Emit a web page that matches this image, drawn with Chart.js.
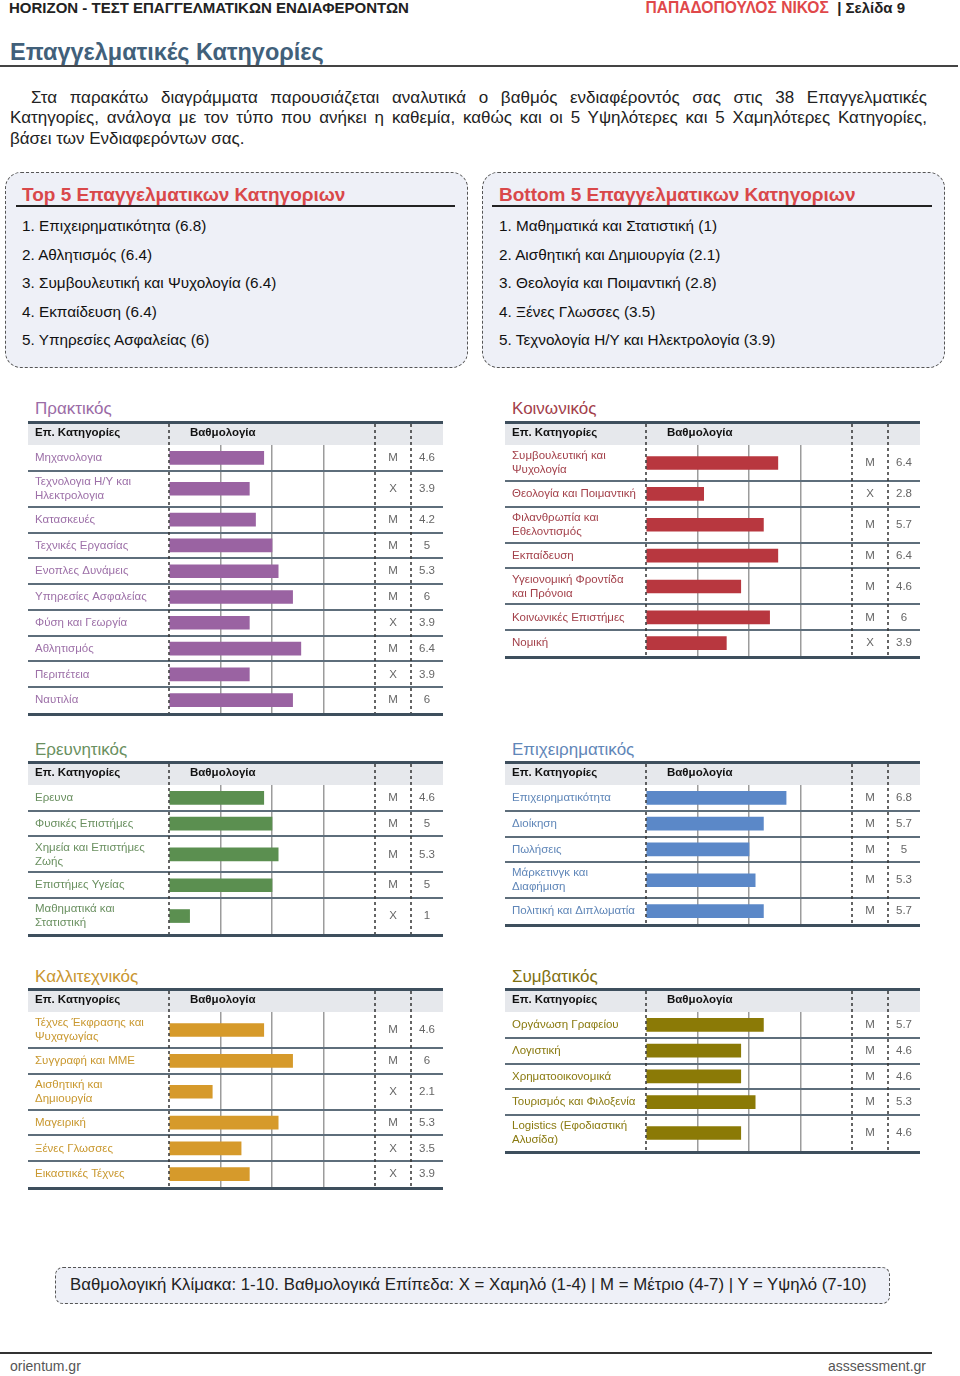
<!DOCTYPE html>
<html lang="el">
<head>
<meta charset="utf-8">
<script src="https://cdn.jsdelivr.net/npm/chart.js@4.4.1/dist/chart.umd.min.js"></script>
<style>
  body { margin: 0; width: 960px; height: 1376px; position: relative; background: #fff;
         font-family: "Liberation Sans", Arial, sans-serif; color: #222; overflow: hidden; }
  .abs { position: absolute; }
  .topbar { top: 0; font-weight: bold; font-size: 15px; line-height: 16px; white-space: nowrap; }
  .h1 { left: 10px; top: 39px; font-size: 23.5px; font-weight: bold; color: #41607a; }
  .rule { background: #444; }
  .para { left: 10px; width: 917px; font-size: 17px; line-height: 20.5px; white-space: nowrap; }
  .para.j { text-align: justify; text-align-last: justify; }
  .box { border: 1.5px dashed #555; border-radius: 16px; background: #eef0f7; box-sizing: border-box; }
  .boxtitle { font-size: 19px; font-weight: bold; color: #d9484a; white-space: nowrap; line-height: 22px; }
  .item { font-size: 15.3px; line-height: 18px; white-space: nowrap; color: #111; }
  .ttitle { font-size: 17px; line-height: 20px; white-space: nowrap; }
  canvas { position: absolute; }
  .legend { left: 55px; top: 1267px; width: 835px; height: 37px; border: 1.5px dashed #555;
            border-radius: 8px; background: #eef0f7; box-sizing: border-box;
            font-size: 16.8px; line-height: 34px; padding-left: 14px; white-space: nowrap; }
  .foot { font-size: 14px; color: #555; top: 1358px; }
</style>
</head>
<body>
<div class="abs topbar" style="left:9px;">HORIZON - ΤΕΣΤ ΕΠΑΓΓΕΛΜΑΤΙΚΩΝ ΕΝΔΙΑΦΕΡΟΝΤΩΝ</div>
<div class="abs topbar" style="right:55px;"><span style="color:#e0484a; font-size:15.6px;">ΠΑΠΑΔΟΠΟΥΛΟΣ ΝΙΚΟΣ</span> &nbsp;| Σελίδα 9</div>
<div class="abs h1">Επαγγελματικές Κατηγορίες</div>
<div class="abs rule" style="left:0; top:65px; width:958px; height:2px;"></div>
<div class="abs para j" style="top:87.5px; left:31px; width:896px;">Στα παρακάτω διαγράμματα παρουσιάζεται αναλυτικά ο βαθμός ενδιαφέροντός σας στις 38 Επαγγελματικές</div>
<div class="abs para j" style="top:108px;">Κατηγορίες, ανάλογα με τον τύπο που ανήκει η καθεμία, καθώς και οι 5 Υψηλότερες και 5 Χαμηλότερες Κατηγορίες,</div>
<div class="abs para" style="top:128.5px;">βάσει των Ενδιαφερόντων σας.</div>

<div class="abs box" style="left:5px; top:172px; width:463px; height:196px;"></div>
<div class="abs boxtitle" style="left:22px; top:184px;">Top 5 Επαγγελματικων Κατηγοριων</div>
<div class="abs rule" style="left:16px; top:205px; width:439px; height:2px; background:#222;"></div>
<div id="topList"></div>

<div class="abs box" style="left:482px; top:172px; width:463px; height:196px;"></div>
<div class="abs boxtitle" style="left:499px; top:184px;">Bottom 5 Επαγγελματικων Κατηγοριων</div>
<div class="abs rule" style="left:492px; top:205px; width:440px; height:2px; background:#222;"></div>
<div id="bottomList"></div>

<div class="abs ttitle" style="left:35px; top:399px; color:#9b6ba6;">Πρακτικός</div>
<div class="abs ttitle" style="left:512px; top:399px; color:#a3404a;">Κοινωνικός</div>
<div class="abs ttitle" style="left:35px; top:740px; color:#6a9060;">Ερευνητικός</div>
<div class="abs ttitle" style="left:512px; top:740px; color:#5f86b8;">Επιχειρηματικός</div>
<div class="abs ttitle" style="left:35px; top:967px; color:#c9962f;">Καλλιτεχνικός</div>
<div class="abs ttitle" style="left:512px; top:967px; color:#7f7010;">Συμβατικός</div>

<canvas id="cPraktikos" width="415" style="left:28px; top:421px;"></canvas>
<canvas id="cKoinonikos" width="415" style="left:505px; top:421px;"></canvas>
<canvas id="cEreunitikos" width="415" style="left:28px; top:761px;"></canvas>
<canvas id="cEpixeirimatikos" width="415" style="left:505px; top:761px;"></canvas>
<canvas id="cKallitexnikos" width="415" style="left:28px; top:988px;"></canvas>
<canvas id="cSymvatikos" width="415" style="left:505px; top:988px;"></canvas>

<div class="abs legend">Βαθμολογική Κλίμακα: 1-10. Βαθμολογικά Επίπεδα: Χ = Χαμηλό (1-4) | Μ = Μέτριο (4-7) | Υ = Υψηλό (7-10)</div>

<div class="abs rule" style="left:0; top:1352px; width:932px; height:2px; background:#333;"></div>
<div class="abs foot" style="left:10px;">orientum.gr</div>
<div class="abs foot" style="right:34px;">asssessment.gr</div>

<script>
// --- Top / Bottom 5 ---
const top5Names = ['Επιχειρηματικότητα', 'Αθλητισμός', 'Συμβουλευτική και Ψυχολογία', 'Εκπαίδευση', 'Υπηρεσίες Ασφαλείας'];
const top5Scores = [6.8, 6.4, 6.4, 6.4, 6];
const bottom5Names = ['Μαθηματικά και Στατιστική', 'Αισθητική και Δημιουργία', 'Θεολογία και Ποιμαντική', 'Ξένες Γλωσσες', 'Τεχνολογία Η/Υ και Ηλεκτρολογία'];
const bottom5Scores = [1, 2.1, 2.8, 3.5, 3.9];

// --- Πρακτικός ---
const praktikosLabels = ['Μηχανολογια', ['Τεχνολογια Η/Υ και', 'Ηλεκτρολογια'], 'Κατασκευές', 'Τεχνικές Εργασίας',
  'Ενοπλες Δυνάμεις', 'Υπηρεσίες Ασφαλείας', 'Φύση και Γεωργία', 'Αθλητισμός', 'Περιπέτεια', 'Ναυτιλία'];
const praktikosScores = [4.6, 3.9, 4.2, 5, 5.3, 6, 3.9, 6.4, 3.9, 6];
const praktikosLevels = ['Μ', 'Χ', 'Μ', 'Μ', 'Μ', 'Μ', 'Χ', 'Μ', 'Χ', 'Μ'];

// --- Κοινωνικός ---
const koinonikosLabels = [['Συμβουλευτική και', 'Ψυχολογία'], 'Θεολογία και Ποιμαντική', ['Φιλανθρωπία και', 'Εθελοντισμός'],
  'Εκπαίδευση', ['Υγειονομική Φροντίδα', 'και Πρόνοια'], 'Κοινωνικές Επιστήμες', 'Νομική'];
const koinonikosScores = [6.4, 2.8, 5.7, 6.4, 4.6, 6, 3.9];
const koinonikosLevels = ['Μ', 'Χ', 'Μ', 'Μ', 'Μ', 'Μ', 'Χ'];

// --- Ερευνητικός ---
const ereunitikosLabels = ['Ερευνα', 'Φυσικές Επιστήμες', ['Χημεία και Επιστήμες', 'Ζωής'], 'Επιστήμες Υγείας', ['Μαθηματικά και', 'Στατιστική']];
const ereunitikosScores = [4.6, 5, 5.3, 5, 1];
const ereunitikosLevels = ['Μ', 'Μ', 'Μ', 'Μ', 'Χ'];

// --- Επιχειρηματικός ---
const epixLabels = ['Επιχειρηματικότητα', 'Διοίκηση', 'Πωλήσεις', ['Μάρκετινγκ και', 'Διαφήμιση'], 'Πολιτική και Διπλωματία'];
const epixScores = [6.8, 5.7, 5, 5.3, 5.7];
const epixLevels = ['Μ', 'Μ', 'Μ', 'Μ', 'Μ'];

// --- Καλλιτεχνικός ---
const kallLabels = [['Τέχνες Έκφρασης και', 'Ψυχαγωγίας'], 'Συγγραφή και ΜΜΕ', ['Αισθητική και', 'Δημιουργία'],
  'Μαγειρική', 'Ξένες Γλωσσες', 'Εικαστικές Τέχνες'];
const kallScores = [4.6, 6, 2.1, 5.3, 3.5, 3.9];
const kallLevels = ['Μ', 'Μ', 'Χ', 'Μ', 'Χ', 'Χ'];

// --- Συμβατικός ---
const symvLabels = ['Οργάνωση Γραφείου', 'Λογιστική', 'Χρηματοοικονομικά', 'Τουρισμός και Φιλοξενία', ['Logistics (Εφοδιαστική', 'Αλυσίδα)']];
const symvScores = [5.7, 4.6, 4.6, 5.3, 4.6];
const symvLevels = ['Μ', 'Μ', 'Μ', 'Μ', 'Μ'];

const scoreMax = 10;

// λίστες στα πλαίσια
function fillList(id, names, scores, left) {
  const host = document.getElementById(id);
  names.forEach((n, i) => {
    const d = document.createElement('div');
    d.className = 'abs item';
    d.style.left = left + 'px';
    d.style.top = (217 + i * 28.5) + 'px';
    d.textContent = (i + 1) + '. ' + n + ' (' + scores[i] + ')';
    host.appendChild(d);
  });
}
fillList('topList', top5Names, top5Scores, 22);
fillList('bottomList', bottom5Names, bottom5Scores, 499);

const HEADER_H = 24;
const ROW_H = 25.8;
const EXTRA_LINE = 10.2;

function makeTable(id, labels, scores, levels, barColor, textColor) {
  // ύψος κάθε γραμμής ανάλογα με τις γραμμές κειμένου
  const bounds = [];
  let acc = 0;
  labels.forEach(l => {
    const n = Array.isArray(l) ? l.length : 1;
    const h = ROW_H + (n - 1) * EXTRA_LINE;
    bounds.push([acc, acc + h]);
    acc += h;
  });
  const total = acc;
  const canvas = document.getElementById(id);
  canvas.height = Math.round(HEADER_H + total + 3);

  const chrome = {
    id: 'tableChrome',
    beforeDraw(chart) {
      const { ctx, chartArea: a, width } = chart;
      ctx.save();
      ctx.fillStyle = '#e6e8ec';
      ctx.fillRect(0, 2, width, a.top - 2);
      ctx.fillStyle = '#111';
      ctx.font = 'bold 11.5px "Liberation Sans"';
      ctx.textBaseline = 'middle';
      ctx.fillText('Επ. Κατηγορίες', 7, 12);
      ctx.fillText('Βαθμολογία', a.left + 21, 12);
      ctx.restore();
    },
    afterDatasetsDraw(chart) {
      const { ctx, chartArea: a, width } = chart;
      const ys = chart.scales.y;
      const line = (x1, y1, x2, y2) => { ctx.beginPath(); ctx.moveTo(x1, y1); ctx.lineTo(x2, y2); ctx.stroke(); };
      ctx.save();
      ctx.strokeStyle = '#5e6e7b';
      ctx.lineWidth = 2;
      bounds.slice(0, -1).forEach(b => {
        const py = Math.round(ys.getPixelForValue(b[1]));
        line(0, py, width, py);
      });
      ctx.strokeStyle = '#3e4f5d';
      ctx.lineWidth = 3;
      line(0, 1.5, width, 1.5);
      line(0, a.bottom + 1.5, width, a.bottom + 1.5);

      ctx.setLineDash([3, 3]);
      ctx.strokeStyle = '#333';
      ctx.lineWidth = 1.5;
      [a.left, a.right, a.right + 36].forEach(x => line(x, 3, x, a.bottom));
      ctx.setLineDash([]);

      ctx.font = '11.5px "Liberation Sans"';
      ctx.textBaseline = 'middle';
      labels.forEach((lab, i) => {
        const lines = [].concat(lab);
        const cy = ys.getPixelForValue((bounds[i][0] + bounds[i][1]) / 2);
        ctx.fillStyle = textColor;
        ctx.textAlign = 'left';
        lines.forEach((t, k) => ctx.fillText(t, 7, cy + (k - (lines.length - 1) / 2) * 14));
        ctx.fillStyle = '#666';
        ctx.textAlign = 'center';
        ctx.fillText(levels[i], a.right + 18, cy);
        ctx.fillText(String(scores[i]), a.right + 52, cy);
      });
      ctx.restore();
    }
  };

  return new Chart(canvas, {
    type: 'bar',
    data: {
      datasets: [{
        data: scores.map((v, i) => ({ x: v, y: (bounds[i][0] + bounds[i][1]) / 2 })),
        backgroundColor: barColor,
        borderWidth: 0,
        barThickness: 13
      }]
    },
    options: {
      indexAxis: 'y',
      responsive: false,
      animation: false,
      devicePixelRatio: 1,
      layout: { padding: { top: HEADER_H, bottom: 3, left: 141, right: 68 } },
      scales: {
        x: {
          type: 'linear', min: 0, max: scoreMax,
          ticks: { display: false, stepSize: 2.5 },
          grid: {
            drawTicks: false, lineWidth: 1.5,
            color: c => (c.tick && c.tick.value > 0 && c.tick.value < scoreMax) ? '#9c9c9c' : 'rgba(0,0,0,0)'
          },
          border: { display: false }
        },
        y: { type: 'linear', min: 0, max: total, reverse: true, offset: false, display: false }
      },
      plugins: { legend: { display: false }, tooltip: { enabled: false } }
    },
    plugins: [chrome]
  });
}

makeTable('cPraktikos', praktikosLabels, praktikosScores, praktikosLevels, '#9a63a2', '#9d70a8');
makeTable('cKoinonikos', koinonikosLabels, koinonikosScores, koinonikosLevels, '#b8373f', '#a3404a');
makeTable('cEreunitikos', ereunitikosLabels, ereunitikosScores, ereunitikosLevels, '#5b8f50', '#6a9060');
makeTable('cEpixeirimatikos', epixLabels, epixScores, epixLevels, '#5b88c8', '#5f86b8');
makeTable('cKallitexnikos', kallLabels, kallScores, kallLevels, '#d69a2b', '#c9982f');
makeTable('cSymvatikos', symvLabels, symvScores, symvLevels, '#8b7a06', '#8a7a10');
</script>
</body>
</html>
